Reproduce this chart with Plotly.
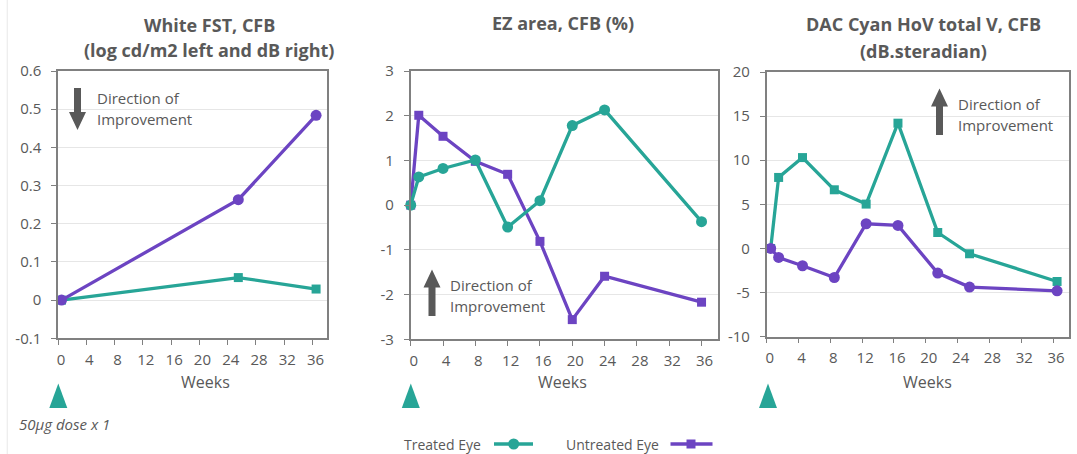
import plotly.graph_objects as go

W, H = 1077, 454
TEAL = "#27a597"
PURPLE = "#6c44c2"
TXT = "#595959"
AXIS = "#808080"
GRID = "#e6e6e6"
FONT = "Open Sans"

# ---- White FST, CFB ----
fst_weeks = [0.5, 25.5, 36.5]
fst_treated = [0.0, 0.059, 0.029]
fst_untreated = [0.0, 0.263, 0.484]

# ---- EZ area, CFB (%) ----
ez_weeks = [0, 1, 4, 8, 12, 16, 20, 24, 36]
ez_treated = [0.0, 0.63, 0.82, 1.01, -0.49, 0.10, 1.78, 2.13, -0.37]
ez_untreated = [0.0, 2.01, 1.54, 0.98, 0.69, -0.81, -2.56, -1.59, -2.17]

# ---- DAC Cyan HoV total V, CFB ----
dac_weeks = [0.5, 1.5, 4.5, 8.5, 12.5, 16.5, 21.5, 25.5, 36.5]
dac_treated = [0.0, 8.05, 10.3, 6.65, 5.03, 14.2, 1.81, -0.6, -3.74]
dac_untreated = [0.0, -1.02, -1.96, -3.29, 2.8, 2.61, -2.79, -4.38, -4.8]

# tick values and labels
week_ticks = [0, 4, 8, 12, 16, 20, 24, 28, 32, 36]
week_labels = [str(v) for v in week_ticks]
fst_left_ticks = [-0.1, 0, 0.1, 0.2, 0.3, 0.4, 0.5, 0.6]
fst_left_labels = ["-0.1", "0", "0.1", "0.2", "0.3", "0.4", "0.5", "0.6"]
fst_right_ticks = [-1, 0, 1, 2, 3, 4, 5, 6]
fst_right_labels = ["-1", "0", "1", "2", "3", "4", "5", "6"]
ez_ticks = [-3, -2, -1, 0, 1, 2, 3]
ez_labels = ["-3", "-2", "-1", "0", "1", "2", "3"]
dac_ticks = [-10, -5, 0, 5, 10, 15, 20]
dac_labels = ["-10", "-5", "0", "5", "10", "15", "20"]


def px(x):
    return x / W


def py(y):
    return 1 - y / H


fig = go.Figure()


def line_trace(xs, ys, color, symbol, size, xa, ya):
    fig.add_trace(go.Scatter(
        x=xs, y=ys, mode="lines+markers", xaxis=xa, yaxis=ya,
        line=dict(color=color, width=3.3),
        marker=dict(color=color, symbol=symbol, size=size),
        showlegend=False, hoverinfo="skip", cliponaxis=False,
    ))


line_trace(fst_weeks, fst_treated, TEAL, "square", 9, "x", "y")
line_trace(fst_weeks, fst_untreated, PURPLE, "circle", 11, "x", "y")
line_trace(ez_weeks, ez_untreated, PURPLE, "square", 9, "x2", "y3")
line_trace(ez_weeks, ez_treated, TEAL, "circle", 11, "x2", "y3")
line_trace(dac_weeks, dac_treated, TEAL, "square", 9, "x3", "y4")
line_trace(dac_weeks, dac_untreated, PURPLE, "circle", 11, "x3", "y4")

tickfont = dict(family=FONT, size=15, color=TXT)


def xax(left, right, anchor):
    return dict(
        domain=[px(left), px(right)], range=[0, 38], anchor=anchor,
        tickmode="array", tickvals=week_ticks, ticktext=week_labels,
        ticks="outside", ticklen=5, tickcolor=AXIS, tickwidth=1.3,
        showline=True, linecolor=AXIS, linewidth=1.5, mirror=True,
        showgrid=False, zeroline=False, tickfont=tickfont,
        ticklabelstandoff=2, ticklabelshift=3, automargin=False,
    )


def yax(top, bottom, rng, tv, tt, anchor):
    return dict(
        domain=[py(bottom), py(top)], range=rng, anchor=anchor,
        tickmode="array", tickvals=tv, ticktext=tt,
        ticks="outside", ticklen=5, tickcolor=AXIS, tickwidth=1.3,
        showline=True, linecolor=AXIS, linewidth=1.5, mirror=True,
        showgrid=True, gridcolor=GRID, gridwidth=1.3, zeroline=False,
        tickfont=tickfont, ticklabelstandoff=7, automargin=False,
    )


fig.update_layout(
    template="none",
    width=W, height=H, margin=dict(l=0, r=0, t=0, b=0, pad=0),
    autosize=False,
    paper_bgcolor="white", plot_bgcolor="white",
    xaxis=xax(58, 326.7, "y"),
    yaxis=yax(71, 338.3, [-0.1, 0.6], fst_left_ticks, fst_left_labels, "x"),
    yaxis2=dict(
        overlaying="y", side="right", anchor="x", range=[-1, 6],
        tickmode="array", tickvals=fst_right_ticks, ticktext=fst_right_labels,
        ticks="outside", ticklen=5, tickcolor=AXIS, tickwidth=1.3,
        showline=True, linecolor=AXIS, linewidth=1.5,
        showgrid=False, zeroline=False, tickfont=tickfont,
        ticklabelstandoff=8, automargin=False,
    ),
    xaxis2=xax(410.7, 717.7, "y3"),
    yaxis3=yax(71, 339.3, [-3, 3], ez_ticks, ez_labels, "x2"),
    xaxis3=xax(766.7, 1069, "y4"),
    yaxis4=yax(72, 336.7, [-10, 20], dac_ticks, dac_labels, "x3"),
    hovermode=False,
)

annotations = []
shapes = []


def text(x, y, s, size=14, bold=False, italic=False, anchor="center"):
    if bold:
        s = "<b>" + s + "</b>"
    if italic:
        s = "<i>" + s + "</i>"
    annotations.append(dict(
        x=px(x), y=py(y), xref="paper", yref="paper", text=s, showarrow=False,
        xanchor=anchor, yanchor="middle", borderpad=0,
        font=dict(family=FONT, size=size, color=TXT),
    ))


# panel titles
text(209, 25, "White FST, CFB", 18, bold=True)
text(209, 50, "(log cd/m2 left and dB right)", 18, bold=True)
text(563, 23, "EZ area, CFB (%)", 18, bold=True)
text(923, 24, "DAC Cyan HoV total V, CFB", 18, bold=True)
text(923, 51, "(dB.steradian)", 18, bold=True)

# axis titles
for cx in (205, 562, 927):
    text(cx, 382, "Weeks", 16)

# direction-of-improvement notes
for lx, y1, y2 in ((96, 98, 119), (449, 284.5, 306), (957, 104, 125.5)):
    text(lx, y1, "Direction of", 15, anchor="left")
    text(lx, y2, "Improvement", 15, anchor="left")


def arrow(cx, tip, tail, head_len=18, head_w=17, shaft_w=7):
    d = 1 if tail > tip else -1  # 1 => arrow points up
    base = tip + d * head_len
    path = (
        f"M {px(cx - shaft_w / 2)} {py(tail)} L {px(cx - shaft_w / 2)} {py(base)} "
        f"L {px(cx - head_w / 2)} {py(base)} L {px(cx)} {py(tip)} "
        f"L {px(cx + head_w / 2)} {py(base)} L {px(cx + shaft_w / 2)} {py(base)} "
        f"L {px(cx + shaft_w / 2)} {py(tail)} Z"
    )
    shapes.append(dict(type="path", path=path, xref="paper", yref="paper",
                       fillcolor="#595959", line=dict(width=0)))


arrow(77.5, 130, 88)
arrow(432, 269.5, 316)
arrow(939.5, 88.5, 135)

# dose markers under week 0
for cx in (58.3, 410.8, 768):
    path = (f"M {px(cx - 9)} {py(408)} L {px(cx)} {py(383.5)} "
            f"L {px(cx + 9)} {py(408)} Z")
    shapes.append(dict(type="path", path=path, xref="paper", yref="paper",
                       fillcolor=TEAL, line=dict(width=0)))

text(18, 423.5, "50μg dose x 1", 15, italic=True, anchor="left")

# legend
text(403, 444, "Treated Eye", 14, anchor="left")
text(565, 444, "Untreated Eye", 14, anchor="left")
shapes.append(dict(type="line", xref="paper", yref="paper",
                   x0=px(494), x1=px(533), y0=py(444), y1=py(444),
                   line=dict(color=TEAL, width=3.3)))
shapes.append(dict(type="circle", xref="paper", yref="paper",
                   x0=px(508.2), x1=px(519.2), y0=py(438.5), y1=py(449.5),
                   fillcolor=TEAL, line=dict(width=0)))
shapes.append(dict(type="line", xref="paper", yref="paper",
                   x0=px(670.5), x1=px(712.5), y0=py(444), y1=py(444),
                   line=dict(color=PURPLE, width=3.3)))
shapes.append(dict(type="rect", xref="paper", yref="paper",
                   x0=px(686.5), x1=px(695.5), y0=py(439.5), y1=py(448.5),
                   fillcolor=PURPLE, line=dict(width=0)))

# faint frame line on the left edge
shapes.append(dict(type="line", xref="paper", yref="paper",
                   x0=px(7.3), x1=px(7.3), y0=0, y1=1,
                   line=dict(color="#ececec", width=1.2)))

fig.update_layout(annotations=annotations, shapes=shapes)
fig.write_html("out.html")
